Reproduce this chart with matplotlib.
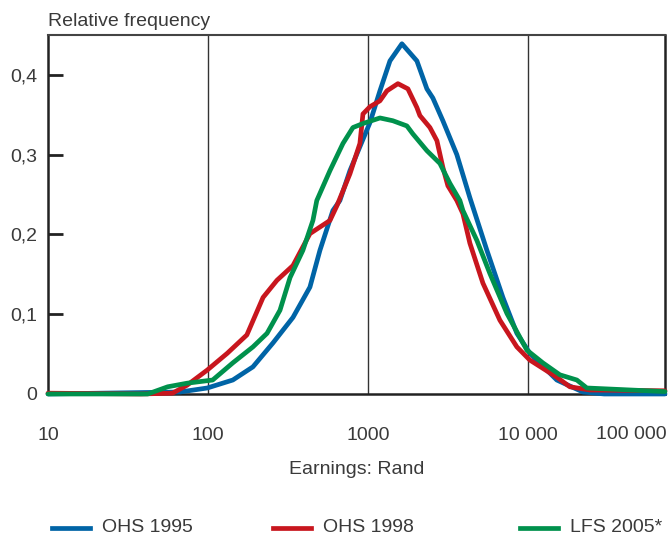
import matplotlib.pyplot as plt
from matplotlib.lines import Line2D
from matplotlib.ticker import FuncFormatter, FixedLocator, NullLocator

plt.rcParams['font.family'] = ['Liberation Sans', 'DejaVu Sans']

# earnings (rand) and relative frequency
ohs95_x = [10, 67, 99, 143, 191, 255, 340, 434, 501, 604, 668, 772, 891, 1029, 1189,
           1373, 1631, 2024, 2337, 2547, 2942, 3597, 4340, 5546, 6982, 8536, 10290,
           15170, 22070, 30000, 72000]
ohs95_y = [0.0, 0.0025, 0.0075, 0.0175, 0.034, 0.064, 0.096, 0.134, 0.18, 0.23, 0.2425,
           0.28, 0.31, 0.34, 0.38, 0.4175, 0.439, 0.4175, 0.3825, 0.371, 0.3425, 0.30,
           0.246, 0.18, 0.121, 0.076, 0.051, 0.0175, 0.0025, 0.0, 0.0]

ohs98_x = [10, 38, 60, 74, 99, 132, 175, 221, 270, 340, 434, 579, 640, 772, 891, 931,
           1029, 1189, 1315, 1540, 1778, 2024, 2113, 2441, 2700, 2942, 3162, 3597, 3925,
           4340, 5234, 6683, 8536, 10290, 15170, 18300, 24410, 72000]
ohs98_y = [0.001, 0.0, 0.001, 0.011, 0.03, 0.051, 0.074, 0.121, 0.1425, 0.161, 0.201,
           0.2175, 0.236, 0.276, 0.314, 0.351, 0.36, 0.3675, 0.38, 0.389, 0.3825, 0.359,
           0.349, 0.334, 0.3175, 0.284, 0.261, 0.2425, 0.226, 0.189, 0.139, 0.0925,
           0.059, 0.0425, 0.021, 0.009, 0.005, 0.004]

lfs05_x = [10, 42, 56, 74, 107, 143, 191, 234, 282, 326, 392, 453, 479, 579, 698, 806,
           931, 1189, 1432, 1753, 1910, 2337, 2818, 3255, 3758, 3925, 4799, 5788, 7395,
           9856, 12410, 15850, 20240, 23370, 72000]
lfs05_y = [0.0, 0.0, 0.009, 0.0135, 0.0175, 0.039, 0.059, 0.076, 0.105, 0.146, 0.18,
           0.2175, 0.2425, 0.28, 0.314, 0.334, 0.339, 0.346, 0.3425, 0.336, 0.326, 0.305,
           0.289, 0.264, 0.2425, 0.23, 0.1925, 0.151, 0.101, 0.055, 0.039, 0.024,
           0.0175, 0.0075, 0.003]

names = ["OHS 1995", "OHS 1998", "LFS 2005*"]
colors = ["#0064a6", "#c8161e", "#00914c"]
xs_all = [ohs95_x, ohs98_x, lfs05_x]
ys_all = [ohs95_y, ohs98_y, lfs05_y]

x_ticks = [10, 100, 1000, 10000]
x_labels = ["10", "100", "1000", "10 000"]
grid_x = [100, 1000, 10000]

txt = "#3a3a3a"
fs = 14

fig = plt.figure(figsize=(6.68, 5.35), dpi=100)
ax = fig.add_axes([0.0719, 0.2636, 0.9236, 0.671])

for name, xs, ys, col in zip(names, xs_all, ys_all, colors):
    ax.plot(xs, ys, color=col, lw=3.4, label=name,
            solid_joinstyle='round', solid_capstyle='round', clip_on=False, zorder=3)

for gx in grid_x:
    ax.axvline(gx, color="#333333", lw=1.0, zorder=1)

ax.set_xscale('log')
ax.set_xlim(10, 72000)
ax.set_ylim(0, 0.45)

ax.xaxis.set_major_locator(FixedLocator(x_ticks))
ax.xaxis.set_minor_locator(NullLocator())
ax.set_xticklabels(x_labels)
ax.tick_params(axis='x', length=0, pad=24, labelsize=fs, colors=txt)
ax.text(0.945, -0.113, "100 000", transform=ax.transAxes, ha='center', va='center',
        fontsize=fs, color=txt)

ax.set_yticks([0, 0.1, 0.2, 0.3, 0.4])
ax.yaxis.set_major_formatter(FuncFormatter(lambda v, p: "0" if v == 0 else f"{v:.1f}".replace(".", ",")))
ax.tick_params(axis='y', direction='in', length=11, width=2, pad=8, labelsize=fs,
               colors="#222222", labelcolor=txt)

for s in ['left', 'bottom', 'right']:
    ax.spines[s].set_linewidth(1.8)
    ax.spines[s].set_color("#222222")
ax.spines['top'].set_linewidth(1.5)
ax.spines['top'].set_color("#444444")

ax.text(0.0, 1.015, "Relative frequency", transform=ax.transAxes, ha='left', va='bottom',
        fontsize=fs, color=txt)
ax.set_xlabel("Earnings: Rand", fontsize=fs, color=txt, labelpad=12)

# legend along the bottom edge
W, H = 668, 535
leg_x = [52, 273, 520]
leg_y = 1 - 528 / H
for lx, name, col in zip(leg_x, names, colors):
    fig.add_artist(Line2D([lx / W, (lx + 38) / W], [leg_y, leg_y], color=col, lw=3.4))
    fig.text((lx + 50) / W, leg_y, name, ha='left', va='center', fontsize=fs, color=txt)

fig.savefig("out.png", dpi=100)
